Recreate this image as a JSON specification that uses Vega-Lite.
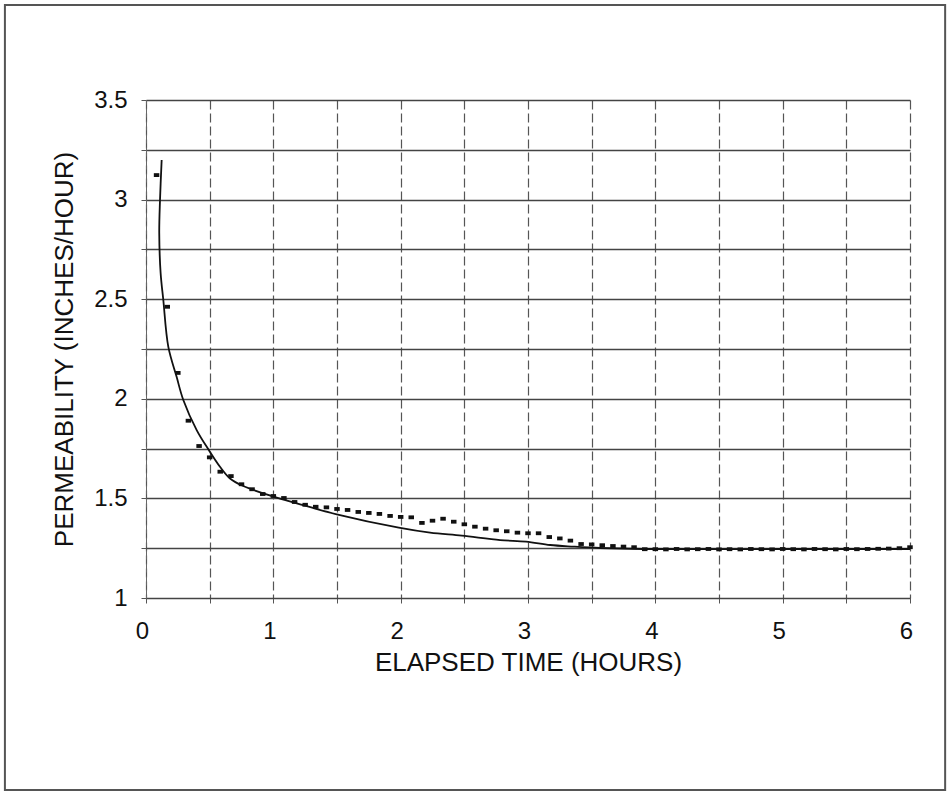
{
  "$schema": "https://vega.github.io/schema/vega-lite/v6.json",
  "autosize": {"type": "none"},
  "width": 764,
  "height": 498,
  "padding": {"left": 146, "top": 100, "right": 37, "bottom": 196},
  "background": "white",
  "config": {
    "view": {"stroke": null},
    "font": "Liberation Sans"
  },
  "datasets": {
    "measured": [
      {"t": 0.083, "p": 3.123}, {"t": 0.167, "p": 2.462}, {"t": 0.25, "p": 2.130}, {"t": 0.333, "p": 1.890},
      {"t": 0.417, "p": 1.763}, {"t": 0.5, "p": 1.706}, {"t": 0.583, "p": 1.634}, {"t": 0.667, "p": 1.612},
      {"t": 0.75, "p": 1.571}, {"t": 0.833, "p": 1.546}, {"t": 0.917, "p": 1.522}, {"t": 1.0, "p": 1.512},
      {"t": 1.083, "p": 1.502}, {"t": 1.167, "p": 1.482}, {"t": 1.25, "p": 1.468}, {"t": 1.333, "p": 1.458},
      {"t": 1.417, "p": 1.455}, {"t": 1.5, "p": 1.447}, {"t": 1.583, "p": 1.442}, {"t": 1.667, "p": 1.432},
      {"t": 1.75, "p": 1.427}, {"t": 1.833, "p": 1.422}, {"t": 1.917, "p": 1.412}, {"t": 2.0, "p": 1.407},
      {"t": 2.083, "p": 1.405}, {"t": 2.167, "p": 1.377}, {"t": 2.25, "p": 1.388}, {"t": 2.333, "p": 1.398},
      {"t": 2.417, "p": 1.383}, {"t": 2.5, "p": 1.370}, {"t": 2.583, "p": 1.358}, {"t": 2.667, "p": 1.348},
      {"t": 2.75, "p": 1.340}, {"t": 2.833, "p": 1.335}, {"t": 2.917, "p": 1.328}, {"t": 3.0, "p": 1.325},
      {"t": 3.083, "p": 1.325}, {"t": 3.167, "p": 1.306}, {"t": 3.25, "p": 1.299}, {"t": 3.333, "p": 1.288},
      {"t": 3.417, "p": 1.271}, {"t": 3.5, "p": 1.269}, {"t": 3.583, "p": 1.265}, {"t": 3.667, "p": 1.261},
      {"t": 3.75, "p": 1.258}, {"t": 3.833, "p": 1.255}, {"t": 3.917, "p": 1.245}, {"t": 4.0, "p": 1.245},
      {"t": 4.083, "p": 1.244}, {"t": 4.167, "p": 1.246}, {"t": 4.25, "p": 1.244}, {"t": 4.333, "p": 1.245},
      {"t": 4.417, "p": 1.246}, {"t": 4.5, "p": 1.244}, {"t": 4.583, "p": 1.245}, {"t": 4.667, "p": 1.244},
      {"t": 4.75, "p": 1.246}, {"t": 4.833, "p": 1.245}, {"t": 4.917, "p": 1.244}, {"t": 5.0, "p": 1.246},
      {"t": 5.083, "p": 1.245}, {"t": 5.167, "p": 1.244}, {"t": 5.25, "p": 1.246}, {"t": 5.333, "p": 1.245},
      {"t": 5.417, "p": 1.244}, {"t": 5.5, "p": 1.246}, {"t": 5.583, "p": 1.245}, {"t": 5.667, "p": 1.246},
      {"t": 5.75, "p": 1.247}, {"t": 5.833, "p": 1.248}, {"t": 5.917, "p": 1.250}, {"t": 6.0, "p": 1.255}
    ],
    "fitted": [
      {"i": 1, "t": 0.123, "p": 3.199}, {"i": 2, "t": 0.110, "p": 2.998}, {"i": 3, "t": 0.104, "p": 2.832},
      {"i": 4, "t": 0.115, "p": 2.630}, {"i": 5, "t": 0.136, "p": 2.496}, {"i": 6, "t": 0.175, "p": 2.262},
      {"i": 7, "t": 0.241, "p": 2.109}, {"i": 8, "t": 0.293, "p": 1.994}, {"i": 9, "t": 0.398, "p": 1.843},
      {"i": 10, "t": 0.493, "p": 1.743}, {"i": 11, "t": 0.581, "p": 1.659}, {"i": 12, "t": 0.660, "p": 1.600},
      {"i": 13, "t": 0.764, "p": 1.562}, {"i": 14, "t": 1.0, "p": 1.509}, {"i": 15, "t": 1.184, "p": 1.475},
      {"i": 16, "t": 1.498, "p": 1.420}, {"i": 17, "t": 1.985, "p": 1.353}, {"i": 18, "t": 2.231, "p": 1.328},
      {"i": 19, "t": 2.480, "p": 1.313}, {"i": 20, "t": 2.781, "p": 1.291}, {"i": 21, "t": 2.985, "p": 1.283},
      {"i": 22, "t": 3.174, "p": 1.266}, {"i": 23, "t": 3.357, "p": 1.258}, {"i": 24, "t": 3.566, "p": 1.251},
      {"i": 25, "t": 3.904, "p": 1.246}, {"i": 26, "t": 5.0, "p": 1.246}, {"i": 27, "t": 6.0, "p": 1.246}
    ]
  },
  "layer": [
    {
      "data": {"values": [{}]},
      "mark": {"type": "rect", "fill": null, "stroke": "#555555", "strokeWidth": 2, "clip": false},
      "encoding": {
        "x": {"datum": -1.108, "type": "quantitative", "scale": {"domain": [0, 6], "nice": false, "zero": false}, "axis": {
          "values": [0, 0.5, 1, 1.5, 2, 2.5, 3, 3.5, 4, 4.5, 5, 5.5, 6],
          "format": "~g",
          "labelExpr": "datum.value % 1 === 0 ? datum.label : ''",
          "title": "ELAPSED TIME (HOURS)",
          "titleFont": "Liberation Sans", "titleFontSize": 26, "titleFontWeight": "normal", "titleColor": "#111111", "titlePadding": 6,
          "labelFont": "Liberation Sans", "labelFontSize": 24, "labelColor": "#111111", "labelPadding": 16, "labelOffset": -4,
          "labelFlush": false, "labelOverlap": false,
          "grid": true, "gridColor": "#555555", "gridDash": [9, 4], "gridWidth": 1.2,
          "domain": true, "domainColor": "#444444", "domainWidth": 1.2,
          "ticks": true, "tickSize": 5, "tickColor": "#555555"
        }},
        "x2": {"datum": 6.276},
        "y": {"datum": 3.977, "type": "quantitative", "scale": {"domain": [1, 3.5], "nice": false, "zero": false}, "axis": {
          "values": [1, 1.25, 1.5, 1.75, 2, 2.25, 2.5, 2.75, 3, 3.25, 3.5],
          "format": "~g",
          "labelExpr": "datum.value % 0.5 === 0 ? datum.label : ''",
          "title": "PERMEABILITY (INCHES/HOUR)",
          "titleFont": "Liberation Sans", "titleFontSize": 26, "titleFontWeight": "normal", "titleColor": "#111111", "titlePadding": 16,
          "labelFont": "Liberation Sans", "labelFontSize": 24, "labelColor": "#111111", "labelPadding": 14,
          "labelFlush": false, "labelOverlap": false,
          "grid": true, "gridColor": "#444444", "gridWidth": 1.4,
          "domain": true, "domainColor": "#666666", "domainDash": [9, 4], "domainWidth": 1,
          "ticks": true, "tickSize": 5, "tickColor": "#555555"
        }},
        "y2": {"datum": 0.036}
      }
    },
    {
      "data": {"name": "fitted"},
      "mark": {"type": "line", "color": "#111111", "strokeWidth": 1.8, "interpolate": "catmull-rom"},
      "encoding": {
        "x": {"field": "t", "type": "quantitative"},
        "y": {"field": "p", "type": "quantitative"},
        "order": {"field": "i", "type": "quantitative"}
      }
    },
    {
      "data": {"name": "measured"},
      "mark": {"type": "point", "shape": "M-1,-0.7H1V0.7H-1Z", "size": 30, "filled": true, "color": "#111111", "opacity": 1},
      "encoding": {
        "x": {"field": "t", "type": "quantitative"},
        "y": {"field": "p", "type": "quantitative"}
      }
    }
  ]
}
